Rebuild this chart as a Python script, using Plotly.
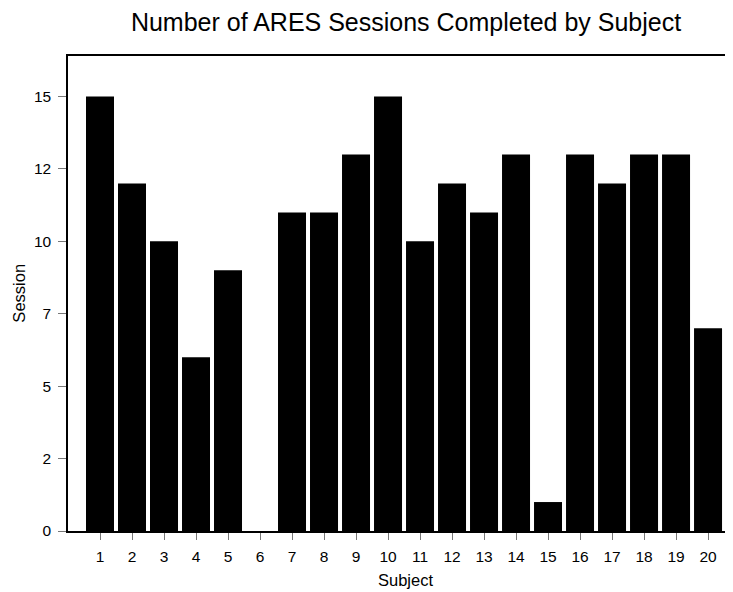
import plotly.graph_objects as go

subjects = [str(i) for i in range(1, 21)]
sessions = [15, 12, 10, 6, 9, 0, 11, 11, 13, 15, 10, 12, 11, 13, 1, 13, 12, 13, 13, 7]
ytick_vals = [0, 2.5, 5, 7.5, 10, 12.5, 15]
ytick_text = ["0", "2", "5", "7", "10", "12", "15"]

fig = go.Figure(go.Bar(
    x=list(range(1, 21)), y=sessions,
    marker=dict(color="black", line=dict(width=0)),
    width=0.875,
))

font = "Liberation Sans, Arial, sans-serif"
fig.update_layout(
    width=725, height=584,
    margin=dict(l=60, r=0, t=48, b=61),
    paper_bgcolor="white", plot_bgcolor="white",
    showlegend=False,
    font=dict(family=font, size=15, color="black"),
    title=dict(text="Number of ARES Sessions Completed by Subject",
               x=0.549, xanchor="center", y=0.976, yanchor="middle",
               font=dict(size=25, family=font, color="black")),
    xaxis=dict(range=[0, 20.78], tickvals=list(range(1, 21)), ticktext=subjects,
               showgrid=False, zeroline=False, showline=True, linecolor="black",
               linewidth=1.5, mirror=True, ticks="outside", ticklen=7,
               tickcolor="#777777", tickwidth=1, tickfont=dict(size=15.5),
               ticklabelstandoff=4),
    yaxis=dict(range=[0, 16.4], tickvals=ytick_vals, ticktext=ytick_text,
               showgrid=False, zeroline=False, showline=True, linecolor="black",
               linewidth=1.5, ticks="outside", ticklen=8,
               tickcolor="#777777", tickwidth=1, tickfont=dict(size=15.5),
               ticklabelstandoff=4),
    annotations=[
        dict(text="Subject", xref="paper", yref="paper", x=0.507, y=-0.103,
             xanchor="center", yanchor="middle", showarrow=False,
             font=dict(size=16.5, family=font)),
        dict(text="Session", xref="paper", yref="paper", x=-0.075, y=0.5,
             textangle=-90, xanchor="center", yanchor="middle", showarrow=False,
             font=dict(size=16.5, family=font)),
    ],
)

fig.write_html("out.html")
